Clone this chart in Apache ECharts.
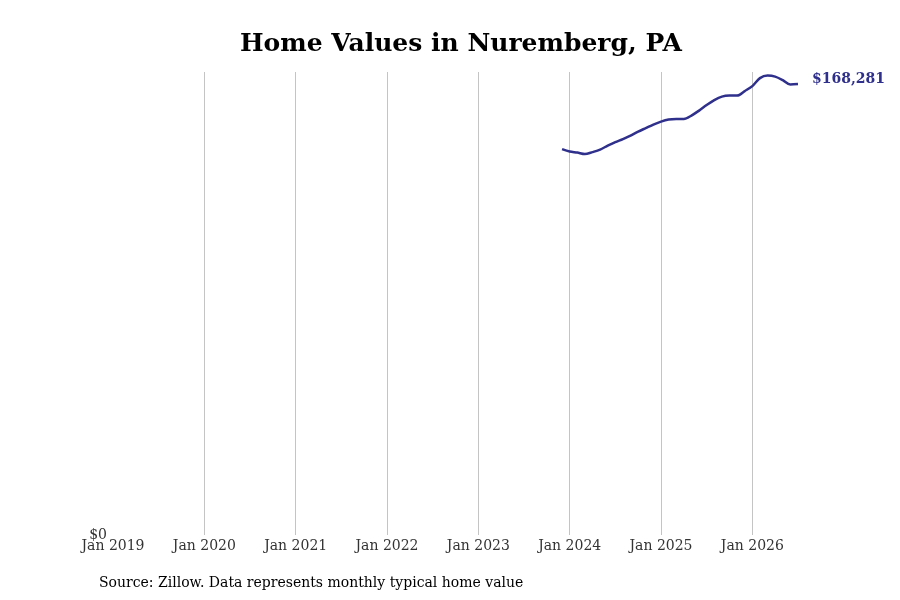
<!DOCTYPE html>
<html>
<head>
<meta charset="utf-8">
<script src="https://cdn.jsdelivr.net/npm/echarts@6/dist/echarts.min.js"></script>
<style>html,body{margin:0;padding:0;background:#fff;}#c{width:900px;height:600px;}</style>
</head>
<body>
<div id="c"></div>
<script>
var months = ['2023-12','2024-01','2024-02','2024-03','2024-04','2024-05','2024-06','2024-07','2024-08','2024-09','2024-10','2024-11','2024-12',
  '2025-01','2025-02','2025-03','2025-04','2025-05','2025-06','2025-07','2025-08','2025-09','2025-10','2025-11','2025-12',
  '2026-01','2026-02','2026-03','2026-04','2026-05','2026-06','2026-07'];
var values = [144030,143100,142720,142160,142910,143840,145330,146640,147760,149070,150560,151860,153170,
  154290,155040,155220,155220,156530,158390,160450,162310,163620,163990,163990,165670,
  167540,170520,171450,171080,169770,168100,168281];
var yearTicks = ['Jan 2019','Jan 2020','Jan 2021','Jan 2022','Jan 2023','Jan 2024','Jan 2025','Jan 2026'];
var startYear = 2019;
var axisEndMonth = '2026-07';
var yMax = 172800;

function monthIndex(s){ var p = s.split('-'); return (parseInt(p[0],10)-startYear)*12 + parseInt(p[1],10)-1; }
var seriesData = months.map(function(m,i){ return [monthIndex(m), values[i]]; });
var font = 'DejaVu Serif';
var chart = echarts.init(document.getElementById('c'));
chart.setOption({
  animation:false,
  backgroundColor:'#fff',
  title:{ text:'Home Values in Nuremberg, PA', left:235, top:27,
    textStyle:{ fontFamily:font, fontSize:25, fontWeight:'bold', color:'#000' } },
  grid:{ left:113, right:102, top:72, bottom:65, containLabel:false },
  xAxis:{ type:'value', min:0, max:monthIndex(axisEndMonth), interval:12,
    axisLine:{show:false}, axisTick:{show:false},
    splitLine:{ show:true, showMinLine:false, showMaxLine:false, lineStyle:{ color:'#c4c4c4', width:1 } },
    axisLabel:{ fontFamily:font, fontSize:14, color:'#333', margin:4, showMaxLabel:false,
      formatter:function(v){ return (v % 12 === 0) ? (yearTicks[v/12] || '') : ''; } } },
  yAxis:{ type:'value', min:0, max:yMax, interval:yMax,
    axisLine:{show:false}, axisTick:{show:false}, splitLine:{show:false},
    axisLabel:{ fontFamily:font, fontSize:14, color:'#333', margin:6,
      formatter:function(v){ return v === 0 ? '$0' : ''; } } },
  series:[{
    type:'line', data:seriesData, smooth:0.3, symbol:'none',
    lineStyle:{ color:'#2f2f8c', width:2.5 },
    endLabel:{ show:true, distance:14, offset:[0,-5],
      fontFamily:font, fontSize:14, fontWeight:'bold', color:'#2f2f8c',
      formatter:function(p){ return '$' + p.value[1].toLocaleString('en-US'); } }
  }],
  graphic:[{ type:'text', left:99, top:576,
    style:{ text:'Source: Zillow. Data represents monthly typical home value', fontFamily:font, fontSize:14, fill:'#000' } }]
});
</script>
</body>
</html>
